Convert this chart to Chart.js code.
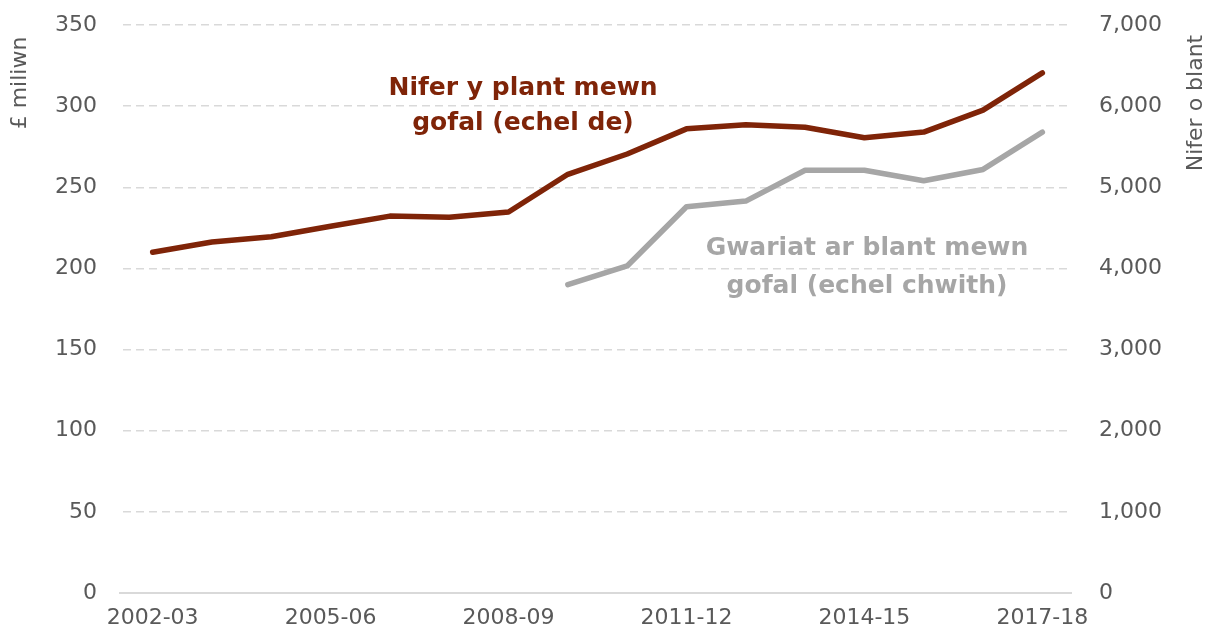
<!DOCTYPE html>
<html>
<head>
<meta charset="utf-8">
<script src="https://cdn.jsdelivr.net/npm/chart.js@4.4.1/dist/chart.umd.min.js"></script>
<style>
  html, body { margin: 0; padding: 0; background: #fff; }
  #wrap { width: 1218px; height: 641px; }
</style>
</head>
<body>
<div id="wrap"><canvas id="c" width="1218" height="641"></canvas></div>
<script>
const categories = ['2002-03','2003-04','2004-05','2005-06','2006-07','2007-08','2008-09','2009-10','2010-11','2011-12','2012-13','2013-14','2014-15','2015-16','2016-17','2017-18'];
// Number of children in care (right axis)
const childrenInCare = [4200, 4325, 4390, 4520, 4645, 4630, 4695, 5160, 5410, 5720, 5770, 5740, 5610, 5680, 5950, 6410];
// Spending on children in care, £ million (left axis)
const spending = [null, null, null, null, null, null, null, 190, 201.5, 238, 241.5, 260.5, 260.5, 254, 261, 284];
const leftTicks = [0, 50, 100, 150, 200, 250, 300, 350];
const rightTicks = [0, 1000, 2000, 3000, 4000, 5000, 6000, 7000];
const leftTitle = '£ miliwn';
const rightTitle = 'Nifer o blant';
const redLabel = ['Nifer y plant mewn', 'gofal (echel de)'];
const greyLabel = ['Gwariat ar blant mewn', 'gofal (echel chwith)'];

const RED = '#7F2408';
const GREY = '#A6A6A6';
const TXT = '#595959';
const FONT = "'DejaVu Sans', sans-serif";

const textPlugin = {
  id: 'texts',
  afterDraw(chart) {
    const ctx = chart.ctx;
    ctx.save();
    ctx.fillStyle = TXT;
    ctx.font = '22px ' + FONT;
    ctx.textAlign = 'center';
    ctx.textBaseline = 'middle';
    ctx.save();
    ctx.translate(20, 83);
    ctx.rotate(-Math.PI / 2);
    ctx.fillText(leftTitle, 0, 0);
    ctx.restore();
    ctx.save();
    ctx.translate(1196, 103);
    ctx.rotate(-Math.PI / 2);
    ctx.fillText(rightTitle, 0, 0);
    ctx.restore();
    ctx.font = 'bold 25px ' + FONT;
    ctx.fillStyle = RED;
    ctx.fillText(redLabel[0], 523, 88);
    ctx.fillText(redLabel[1], 523, 123);
    ctx.fillStyle = GREY;
    ctx.fillText(greyLabel[0], 867, 248);
    ctx.fillText(greyLabel[1], 867, 286);
    ctx.restore();
  }
};

function noPad(s) { s.paddingTop = 0; s.paddingBottom = 0; }

new Chart(document.getElementById('c'), {
  type: 'line',
  data: {
    labels: categories,
    datasets: [
      {
        label: 'Nifer y plant mewn gofal',
        data: childrenInCare,
        yAxisID: 'yR',
        borderColor: RED,
        borderWidth: 5.5,
        borderCapStyle: 'round',
        borderJoinStyle: 'round',
        pointRadius: 0,
        tension: 0,
        fill: false
      },
      {
        label: 'Gwariat ar blant mewn gofal',
        data: spending,
        yAxisID: 'yL',
        borderColor: GREY,
        borderWidth: 5.5,
        borderCapStyle: 'round',
        borderJoinStyle: 'round',
        pointRadius: 0,
        tension: 0,
        spanGaps: false,
        fill: false
      }
    ]
  },
  options: {
    responsive: false,
    animation: false,
    devicePixelRatio: 1,
    layout: { padding: { top: 25, left: 0, right: 0, bottom: 0 } },
    plugins: {
      legend: { display: false },
      tooltip: { enabled: false }
    },
    scales: {
      x: {
        type: 'category',
        offset: true,
        grid: { display: false, drawTicks: false },
        border: { display: false },
        ticks: {
          autoSkip: false,
          maxRotation: 0,
          minRotation: 0,
          padding: 12,
          color: TXT,
          font: { family: FONT, size: 22 },
          callback: function(v, i) { return i % 3 === 0 ? categories[i] : ''; }
        },
        afterFit(s) { s.height = 48; s.paddingLeft = 0; s.paddingRight = 0; }
      },
      yL: {
        position: 'left',
        min: 0, max: 350,
        afterBuildTicks(s) { s.ticks = leftTicks.map(v => ({ value: v })); },
        grid: {
          color: '#D9D9D9',
          lineWidth: 1.5,
          drawTicks: false
        },
        border: { display: false, dash: [8, 5] },
        ticks: {
          color: TXT,
          padding: 26,
          font: { family: FONT, size: 22 },
          callback: v => v.toLocaleString('en-GB')
        },
        afterFit(s) { s.width = 123; noPad(s); }
      },
      yR: {
        position: 'right',
        min: 0, max: 7000,
        afterBuildTicks(s) { s.ticks = rightTicks.map(v => ({ value: v })); },
        grid: { display: false, drawTicks: false },
        border: { display: false },
        ticks: {
          color: TXT,
          padding: 27,
          font: { family: FONT, size: 22 },
          callback: v => v.toLocaleString('en-GB')
        },
        afterFit(s) { s.width = 146; noPad(s); }
      }
    }
  },
  plugins: [textPlugin, {
    id: 'baseline',
    beforeDatasetsDraw(chart) {
      const ctx = chart.ctx, a = chart.chartArea, y = chart.scales.yL.getPixelForValue(0);
      ctx.save();
      ctx.strokeStyle = '#D9D9D9';
      ctx.lineWidth = 2;
      ctx.beginPath();
      ctx.moveTo(a.left - 4, y);
      ctx.lineTo(a.right, y);
      ctx.stroke();
      ctx.restore();
    }
  }]
});
</script>
</body>
</html>
